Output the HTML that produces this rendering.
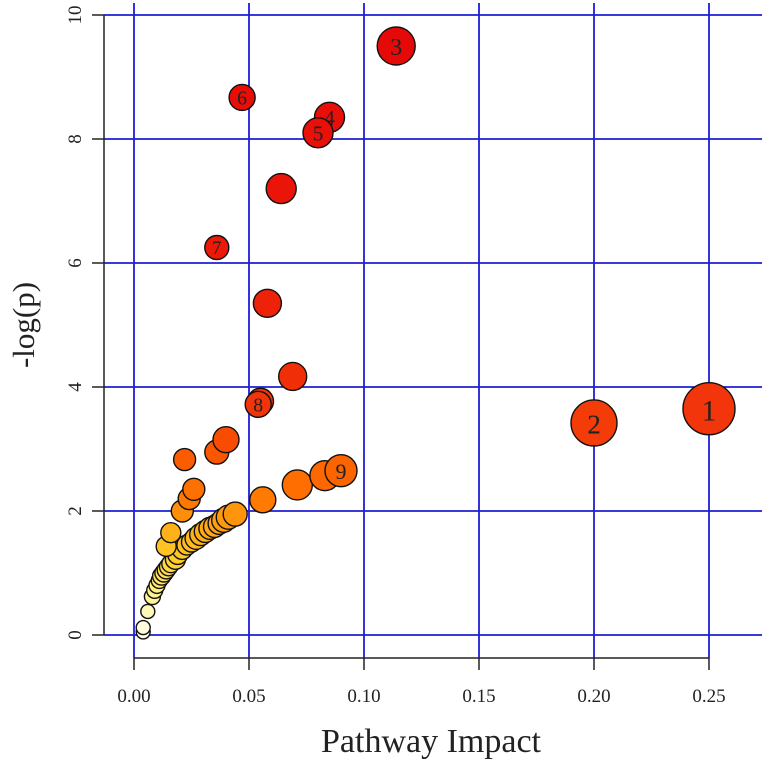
<!DOCTYPE html>
<html><head><meta charset="utf-8"><style>
body{margin:0;background:#fff}
svg{display:block;font-family:"Liberation Serif",serif}
</style></head><body>
<svg id="chart" width="762" height="764"></svg>
<script>
const xTicks=[0,0.05,0.10,0.15,0.20,0.25];
const xTickLabels=["0.00","0.05","0.10","0.15","0.20","0.25"];
const yTicks=[0,2,4,6,8,10];
const yTickLabels=["0","2","4","6","8","10"];
const impact=[0.004,0.004,0.006,0.008,0.009,0.010,0.011,0.012,0.013,0.014,0.015,0.016,0.018,0.019,0.021,0.023,0.025,0.027,0.029,0.031,0.033,0.035,0.037,0.039,0.041,0.044,
 0.014,0.016,0.021,0.024,0.026,0.022,0.036,0.040,0.055,0.069,0.058,0.064,0.056,0.071,0.083,
 0.25,0.20,0.114,0.085,0.080,0.047,0.036,0.054,0.090];
const logp=[0.05,0.12,0.38,0.62,0.72,0.80,0.88,0.95,1.00,1.05,1.10,1.15,1.22,1.30,1.38,1.45,1.50,1.56,1.62,1.67,1.72,1.75,1.80,1.85,1.90,1.95,
 1.43,1.65,2.00,2.20,2.35,2.83,2.95,3.15,3.77,4.17,5.35,7.20,2.18,2.42,2.57,
 3.65,3.42,9.50,8.35,8.10,8.67,6.25,3.72,2.65];
const sizes=[7,7,7,8,8,8,8,9,9,9,9,9,10,10,10,10,10,11,11,11,11,11,11,12,12,12,
 10,10,11,11,11,11,12,13,13,14,14,15,13,15,15,
 26,23,19,15,15,13,12,13,16];
const labels=["","","","","","","","","","","","","","","","","","","","","","","","","","",
 "","","","","","","","","","","","","","","",
 "1","2","3","4","5","6","7","8","9"];
const NS="http://www.w3.org/2000/svg";
const svg=document.getElementById('chart');
const X=v=>134+v*2300, Y=v=>635-v*62;
function mk(t,a,p){const e=document.createElementNS(NS,t);for(const k in a)e.setAttribute(k,a[k]);(p||svg).appendChild(e);return e;}
function col(v){
  const stops=[[0,[255,255,235]],[0.8,[255,240,130]],[1.3,[255,205,40]],[1.8,[255,165,20]],[2.2,[255,120,0]],[3,[250,85,0]],[3.5,[242,55,10]],[6,[236,25,8]],[10,[228,8,8]]];
  for(let i=1;i<stops.length;i++){if(v<=stops[i][0]){const a=stops[i-1],b=stops[i],t=(v-a[0])/(b[0]-a[0]);return 'rgb('+a[1].map((c,j)=>Math.round(c+(b[1][j]-c)*t)).join(',')+')';}}
  return 'rgb(228,8,8)';
}
yTicks.forEach(t=>{const l=mk('line',{x1:104,x2:762,y1:Y(t),y2:Y(t),stroke:'#1e1ed6','stroke-width':1.8});

});
xTicks.forEach(t=>{const l=mk('line',{x1:X(t),x2:X(t),y1:3,y2:658,stroke:'#1e1ed6','stroke-width':1.8});

});
const ya=mk('line',{x1:104,x2:104,y1:Y(10),y2:Y(0),stroke:'#222','stroke-width':1.5});


yTicks.forEach((t,i)=>{mk('line',{x1:92,x2:104,y1:Y(t),y2:Y(t),stroke:'#222','stroke-width':1.5});
const tx=mk('text',{x:0,y:0,'font-size':19,'text-anchor':'middle',transform:`translate(81,${Y(t)}) rotate(-90)`,fill:'#222'});tx.textContent=yTickLabels[i];

});
const xa=mk('line',{x1:X(0),x2:X(0.25),y1:658,y2:658,stroke:'#222','stroke-width':1.5});


xTicks.forEach((t,i)=>{mk('line',{x1:X(t),x2:X(t),y1:658,y2:670,stroke:'#222','stroke-width':1.5});
const tx=mk('text',{x:X(t),y:702,'font-size':19,'text-anchor':'middle',fill:'#222'});tx.textContent=xTickLabels[i];

});
const xt=mk('text',{x:431,y:752,'font-size':34,'text-anchor':'middle',fill:'#222'});xt.textContent='Pathway Impact';


const yt=mk('text',{x:0,y:0,'font-size':31,'text-anchor':'middle',transform:'translate(34,325) rotate(-90)',fill:'#222'});yt.textContent='-log(p)';


impact.forEach((v,i)=>{
  const c=mk('circle',{cx:X(v),cy:Y(logp[i]),r:sizes[i],fill:col(logp[i]),stroke:'#111','stroke-width':1.4});
  
  
  if(labels[i]){const t=mk('text',{x:X(v),y:Y(logp[i])+sizes[i]*0.38+2,'font-size':Math.min(30,10+sizes[i]*0.75),'text-anchor':'middle',fill:'#222'});t.textContent=labels[i];
  
  }
});
</script>
</body></html>
